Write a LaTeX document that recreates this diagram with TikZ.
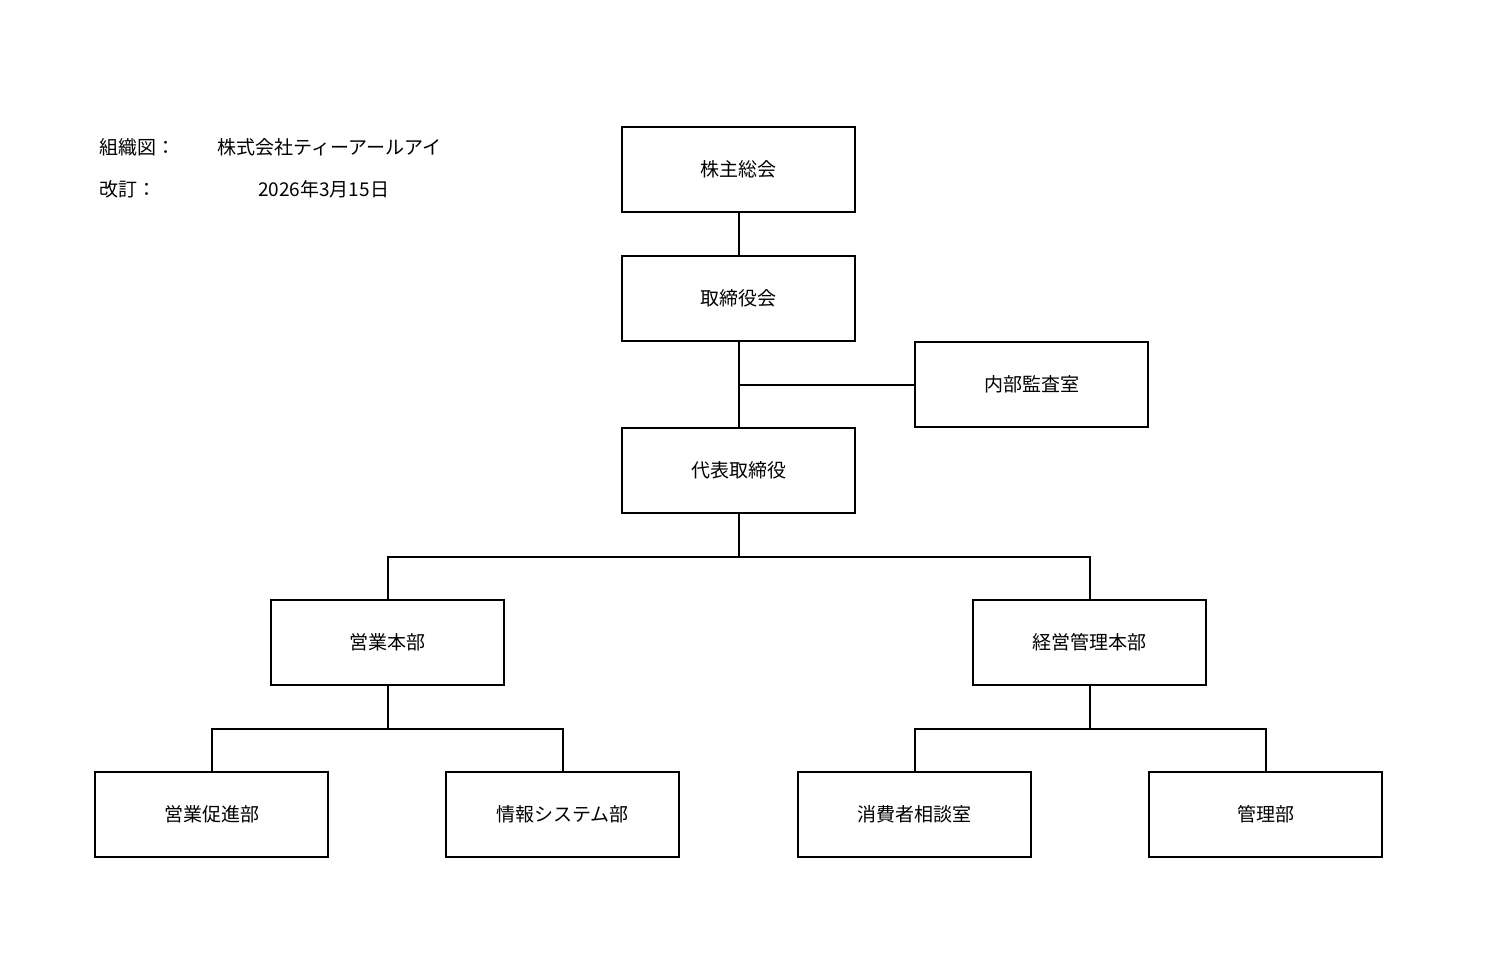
\documentclass[tikz,border=0pt]{standalone}
\usepackage{fontspec}
\setmainfont{Noto Sans CJK JP}
\begin{document}
\begin{tikzpicture}[x=1pt,y=-1pt,
  box/.style={draw,line width=2pt,minimum width=233pt,minimum height=85pt,inner sep=0pt,font=\fontsize{19}{22}\selectfont},
  conn/.style={line width=2pt},
  lbl/.style={anchor=west,inner sep=0pt,font=\fontsize{19}{22}\selectfont}]
\useasboundingbox (0,0) rectangle (1498,960);
\node[box] (a) at (738.5,169.5) {株主総会};
\node[box] (b) at (738.5,298.5) {取締役会};
\node[box] (c) at (1031.5,384.5) {内部監査室};
\node[box] (d) at (738.5,470.5) {代表取締役};
\node[box] (e) at (387.5,642.5) {営業本部};
\node[box] (f) at (1089.5,642.5) {経営管理本部};
\node[box] (g) at (211.5,814.5) {営業促進部};
\node[box] (h) at (562.5,814.5) {情報システム部};
\node[box] (i) at (914.5,814.5) {消費者相談室};
\node[box] (j) at (1265.5,814.5) {管理部};
\coordinate (bus1) at (738.5,557);
\coordinate (bus2) at (387.5,729);
\coordinate (bus3) at (1089.5,729);
\draw[conn] (a) -- (b);
\draw[conn] (b) -- (d);
\draw[conn] (c.west) -- (c.west -| b);
\draw[conn] (d) -- (bus1);
\draw[conn] (e.north) |- (bus1) -| (f.north);
\draw[conn] (e) -- (bus2);
\draw[conn] (g.north) |- (bus2) -| (h.north);
\draw[conn] (f) -- (bus3);
\draw[conn] (i.north) |- (bus3) -| (j.north);
\node[lbl] (t1) at (99,147) {組織図：};
\node[lbl] (t2) at (217,147) {株式会社ティーアールアイ};
\node[lbl] (t3) at (99,189) {改訂：};
\node[lbl] (t4) at (258,189) {2026年3月15日};
\end{tikzpicture}
\end{document}
